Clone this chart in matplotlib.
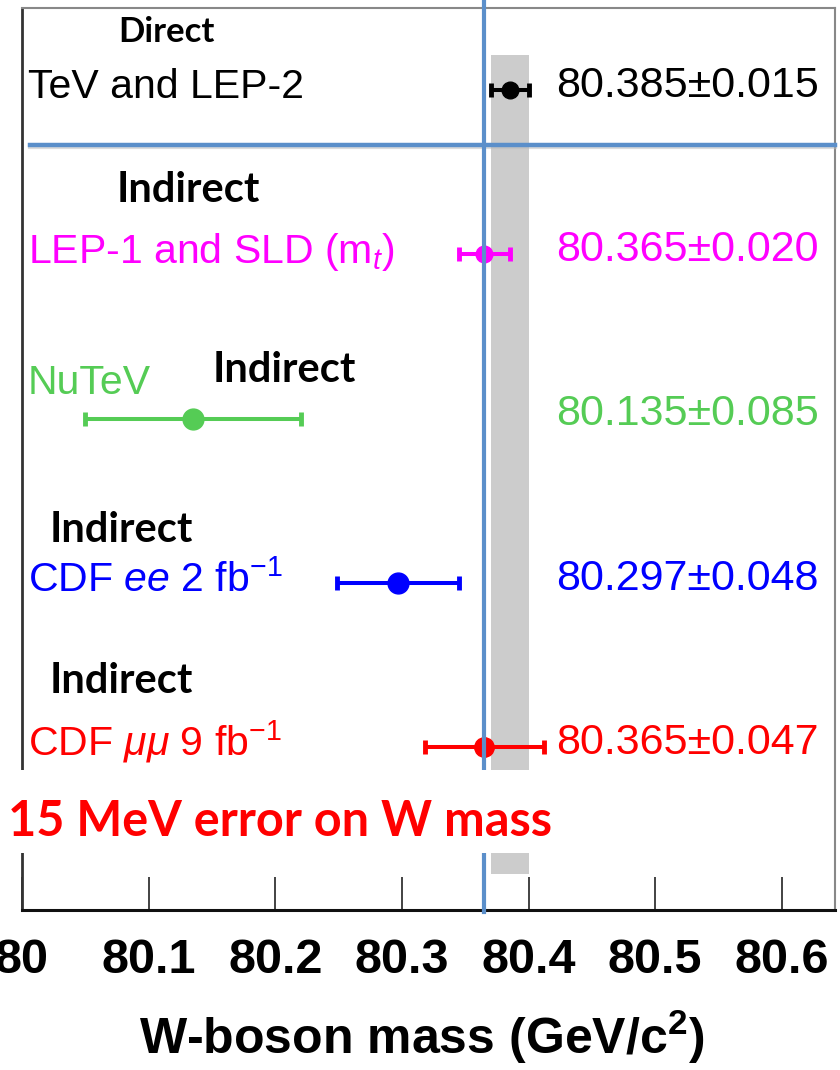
import matplotlib
matplotlib.use("Agg")
import matplotlib.pyplot as plt
import matplotlib.transforms as mtransforms
from matplotlib.patches import Rectangle

# ---- data -------------------------------------------------------------
labels = ["TeV and LEP-2", "LEP-1 and SLD (m$_t$)", "NuTeV",
          "CDF $ee$ 2 fb$^{-1}$", r"CDF $\mu\mu$ 9 fb$^{-1}$"]
kinds = ["Direct", "Indirect", "Indirect", "Indirect", "Indirect"]
masses = [80.385, 80.365, 80.135, 80.297, 80.365]
errors = [0.015, 0.020, 0.085, 0.048, 0.047]
ref_mass = 80.365          # hand-drawn blue vertical line
ticks = [80.0, 80.1, 80.2, 80.3, 80.4, 80.5, 80.6]
note = "15 MeV error on W mass"

# ---- style ------------------------------------------------------------
colors = ["black", "#ff00ff", "#55cc55", "#0000ff", "#ff0000"]
msizes = [12, 12, 15, 15, 14]
BLUE = "#5b8fca"
FAM = "Liberation Sans"      # no Helvetica Narrow here; sizes trade width vs height
plt.rcParams["mathtext.fontset"] = "custom"
plt.rcParams["mathtext.rm"] = FAM
plt.rcParams["mathtext.it"] = FAM + ":italic"
plt.rcParams["mathtext.bf"] = FAM + ":bold"

W, H = 840, 1070
fig = plt.figure(figsize=(W / 100, H / 100), dpi=100)
ax = fig.add_axes([22 / W, 1 - 910 / H, (835 - 22) / W, (910 - 8) / H])
ax.set_xlim(80.0, 80.642)
ax.set_ylim(4.99, -0.5)

# world-average band
ax.add_patch(Rectangle((masses[0] - errors[0], -0.213), 2 * errors[0], 4.985,
                       color="#cccccc", lw=0, zorder=0))

for i, (m, e, c, ms) in enumerate(zip(masses, errors, colors, msizes)):
    ax.errorbar(m, i, xerr=e, fmt="o", color=c, ms=ms, lw=2.9,
                capsize=5, capthick=3.5, zorder=3)

# labels and values
tl = mtransforms.blended_transform_factory(fig.transFigure, ax.transData)
lab_dy = [0.05, 0.055, -0.152, 0.05, 0.05]
for i, (lab, c) in enumerate(zip(labels, colors)):
    ax.text(28 / W, i + lab_dy[i], lab, transform=tl, color=c,
            fontsize=29.5, family=FAM, va="baseline", ha="left")
    ax.text(819 / W, i + 0.04, f"{masses[i]:.3f}\u00b1{errors[i]:.3f}",
            transform=tl, color=c, fontsize=31, family=FAM,
            va="baseline", ha="right")

# Direct / Indirect annotations (pixel positions)
kind_xy = [(118, 42), (117, 202), (213, 382), (50, 542), (50, 693)]
kind_fs = [25, 30, 30, 30, 30]
for kd, (px, py), fs in zip(kinds, kind_xy, kind_fs):
    fig.text(px / W, 1 - py / H, kd, fontsize=fs, family="Lato",
             weight="bold", color="black", va="baseline", ha="left")

# blue hand-drawn lines
ax.plot([80.0063, 80.642], [0.347, 0.347], color="#bbbbbb", lw=3, alpha=0.5,
        zorder=4, clip_on=False)
ax.plot([80.0063, 80.642], [0.335, 0.335], color=BLUE, lw=3.2, zorder=5,
        clip_on=False)
ax.plot([ref_mass, ref_mass], [-0.56, 5.005], color=BLUE, lw=3, zorder=5,
        clip_on=False)

# axes cosmetics
ax.set_yticks([])
ax.set_xticks(ticks)
ax.xaxis.set_major_formatter(matplotlib.ticker.FuncFormatter(lambda v, p: f"{v:g}"))
ax.tick_params(axis="x", direction="in", length=24, width=1.2, color="#222222",
               pad=20, labelsize=35)
for t in ax.get_xticklabels():
    t.set_family(FAM)
    t.set_weight("bold")
ax.set_xlabel("W-boson mass (GeV/c$^{\\mathbf{2}}$)", family=FAM, weight="bold",
              fontsize=36)
ax.xaxis.set_label_coords(0.492, -0.108)
ax.spines["left"].set_color("#333333")
ax.spines["left"].set_linewidth(2)
ax.spines["bottom"].set_color("#111111")
ax.spines["bottom"].set_linewidth(2.2)
for s in ("top", "right"):
    ax.spines[s].set_color("#888888")
    ax.spines[s].set_linewidth(1.5)

# white text box with the red note
fig.add_artist(Rectangle((0, 1 - 853 / H), 560 / W, 83 / H, transform=fig.transFigure,
                         color="white", lw=0, zorder=10))
fig.text(8 / W, 1 - 836 / H, note, fontsize=35, family="Lato", weight="bold",
         color="#ff0000", va="baseline", ha="left", zorder=11)

fig.savefig("out.png", dpi=100)
